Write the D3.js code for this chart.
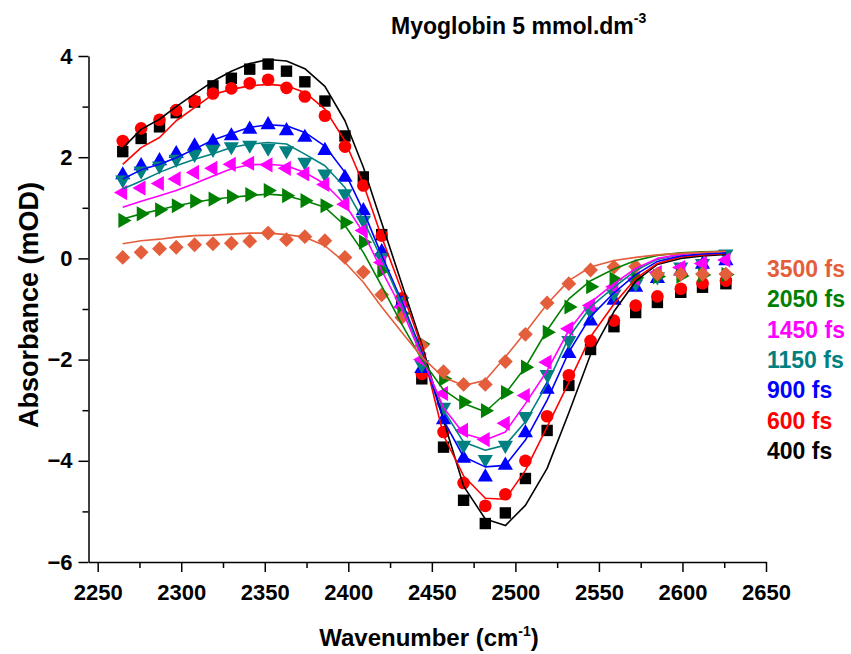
<!DOCTYPE html>
<html>
<head>
<meta charset="utf-8">
<script src="https://cdn.jsdelivr.net/npm/d3@7"></script>
<style>
  body { margin: 0; background: #fff; }
  svg { font-family: "Liberation Sans", Arial, sans-serif; }
</style>
</head>
<body>
<svg id="chart" width="851" height="654"></svg>
<script>
// wavenumber of each detector pixel (cm-1)
const wavenumbers = [2265, 2276, 2287, 2297, 2308, 2319, 2330, 2341, 2352, 2363, 2374, 2386, 2398, 2409, 2420, 2432,
  2444, 2457, 2469, 2482, 2494, 2506, 2519, 2532, 2545, 2559, 2572, 2585, 2599, 2612, 2626];

const delays = ["3500 fs", "2050 fs", "1450 fs", "1150 fs", "900 fs", "600 fs", "400 fs"];

// measured absorbance (mOD)
const abs400 = [2.11, 2.37, 2.60, 2.88, 3.09, 3.41, 3.56, 3.74, 3.84, 3.70, 3.49, 3.11, 2.42, 1.61, 0.47, -0.85,
  -2.38, -3.73, -4.78, -5.24, -5.03, -4.35, -3.40, -2.51, -1.80, -1.35, -1.07, -0.87, -0.67, -0.57, -0.50];
const abs600 = [2.32, 2.57, 2.74, 2.93, 3.11, 3.26, 3.36, 3.46, 3.53, 3.37, 3.20, 2.82, 2.21, 1.44, 0.45, -0.79,
  -2.28, -3.43, -4.44, -4.89, -4.66, -4.00, -3.12, -2.31, -1.63, -1.23, -0.93, -0.75, -0.60, -0.49, -0.44];
const abs900 = [1.65, 1.83, 1.93, 2.07, 2.22, 2.31, 2.42, 2.55, 2.64, 2.52, 2.39, 2.13, 1.60, 0.94, 0.13, -0.88,
  -2.18, -3.19, -3.95, -4.32, -4.09, -3.45, -2.59, -1.88, -1.24, -0.83, -0.57, -0.40, -0.25, -0.12, -0.05];
const abs1150 = [1.55, 1.73, 1.83, 1.96, 2.06, 2.16, 2.21, 2.24, 2.18, 2.13, 1.90, 1.67, 1.28, 0.75, 0.02, -0.85,
  -2.10, -2.94, -3.69, -3.97, -3.69, -3.12, -2.29, -1.62, -1.05, -0.70, -0.50, -0.36, -0.17, -0.10, 0.09];
const abs1450 = [1.30, 1.39, 1.48, 1.57, 1.70, 1.78, 1.86, 1.88, 1.85, 1.78, 1.67, 1.46, 1.07, 0.55, -0.08, -0.96,
  -2.00, -2.67, -3.40, -3.58, -3.26, -2.71, -2.05, -1.39, -0.93, -0.56, -0.40, -0.28, -0.18, -0.10, -0.03];
const abs2050 = [0.75, 0.88, 0.96, 1.04, 1.13, 1.17, 1.22, 1.26, 1.34, 1.24, 1.14, 1.04, 0.71, 0.32, -0.24, -1.09,
  -1.69, -2.38, -2.84, -3.01, -2.65, -2.15, -1.46, -0.96, -0.56, -0.41, -0.38, -0.36, -0.35, -0.33, -0.32];
const abs3500 = [0.02, 0.12, 0.19, 0.22, 0.27, 0.29, 0.30, 0.34, 0.50, 0.37, 0.43, 0.35, 0.02, -0.27, -0.72, -1.17,
  -1.72, -2.24, -2.49, -2.49, -2.04, -1.50, -0.88, -0.50, -0.23, -0.17, -0.16, -0.31, -0.31, -0.31, -0.31];

// fitted curves
const fit400 = [2.18, 2.55, 2.75, 3.00, 3.25, 3.50, 3.70, 3.85, 3.93, 3.90, 3.75, 3.40, 2.72, 1.80, 0.70, -0.50,
  -1.70, -3.20, -4.50, -5.15, -5.28, -4.88, -4.15, -3.05, -1.90, -1.05, -0.45, -0.12, 0.00, 0.05, 0.08];
const fit600 = [1.86, 2.19, 2.39, 2.72, 2.98, 3.24, 3.34, 3.41, 3.44, 3.41, 3.28, 2.95, 2.32, 1.47, 0.42, -0.64,
  -1.75, -3.50, -4.30, -4.74, -4.76, -4.19, -3.33, -2.45, -1.55, -0.90, -0.40, -0.10, 0.03, 0.07, 0.10];
const fit900 = [1.57, 1.75, 1.86, 1.99, 2.16, 2.34, 2.47, 2.59, 2.64, 2.62, 2.49, 2.22, 1.70, 0.94, 0.06, -0.85,
  -1.85, -3.20, -3.92, -4.12, -4.09, -3.59, -2.80, -1.85, -1.15, -0.68, -0.32, -0.06, 0.05, 0.09, 0.11];
const fit1150 = [1.37, 1.53, 1.70, 1.83, 1.96, 2.07, 2.19, 2.26, 2.29, 2.26, 2.06, 1.83, 1.40, 0.75, -0.01, -0.90,
  -1.90, -3.00, -3.63, -3.79, -3.69, -3.23, -2.48, -1.56, -0.96, -0.57, -0.24, -0.02, 0.08, 0.12, 0.14];
const fit1450 = [1.01, 1.13, 1.24, 1.34, 1.48, 1.63, 1.77, 1.85, 1.86, 1.83, 1.70, 1.47, 1.07, 0.51, -0.24, -1.00,
  -1.95, -2.95, -3.46, -3.59, -3.43, -2.87, -2.22, -1.42, -0.87, -0.50, -0.20, 0.00, 0.08, 0.12, 0.14];
const fit2050 = [0.78, 0.88, 0.96, 1.04, 1.11, 1.17, 1.21, 1.24, 1.27, 1.24, 1.14, 1.01, 0.65, 0.12, -0.55, -1.30,
  -2.00, -2.60, -2.87, -3.03, -2.67, -2.15, -1.42, -0.80, -0.44, -0.21, -0.04, 0.06, 0.11, 0.13, 0.14];
const fit3500 = [0.29, 0.35, 0.38, 0.42, 0.45, 0.46, 0.48, 0.50, 0.50, 0.47, 0.42, 0.25, -0.08, -0.47, -0.96, -1.46,
  -1.95, -2.35, -2.51, -2.41, -1.95, -1.46, -0.90, -0.44, -0.17, -0.04, 0.02, 0.07, 0.10, 0.12, 0.14];

const xTicks = [2250, 2300, 2350, 2400, 2450, 2500, 2550, 2600, 2650];
const yTicks = [-6, -4, -2, 0, 2, 4];

// drawing order: first series ends up underneath
const series = [
  { label: "400 fs", data: abs400, fit: fit400, color: "#000000", shape: d3.symbolSquare, size: 130, rot: 0 },
  { label: "600 fs", data: abs600, fit: fit600, color: "#ff0000", shape: d3.symbolCircle, size: 125, rot: 0 },
  { label: "900 fs", data: abs900, fit: fit900, color: "#0000ff", shape: d3.symbolTriangle, size: 100, rot: 0 },
  { label: "1150 fs", data: abs1150, fit: fit1150, color: "#008080", shape: d3.symbolTriangle, size: 100, rot: 180 },
  { label: "1450 fs", data: abs1450, fit: fit1450, color: "#ff00ff", shape: d3.symbolTriangle, size: 100, rot: -90 },
  { label: "2050 fs", data: abs2050, fit: fit2050, color: "#008000", shape: d3.symbolTriangle, size: 100, rot: 90 },
  { label: "3500 fs", data: abs3500, fit: fit3500, color: "#e45e3c", shape: d3.symbolSquare, size: 110, rot: 45 }
];

const svg = d3.select("#chart");

const x = d3.scaleLinear().domain([2244.5, 2650]).range([88.5, 766]);
const y = d3.scaleLinear().domain([-6, 4]).range([562, 56]);

// axes
svg
  .append("g")
  .attr("transform", "translate(0,562)")
  .call(d3.axisBottom(x).tickValues(xTicks).tickSize(10).tickSizeOuter(0).tickPadding(12).tickFormat(d3.format("d")));
svg
  .append("g")
  .attr("transform", "translate(0,562)")
  .call(d3.axisBottom(x).tickValues(xTicks.slice(0, -1).map((d) => d + 25)).tickSize(6).tickFormat(""))
  .select(".domain")
  .remove();

svg
  .append("g")
  .attr("transform", "translate(88.5,0)")
  .call(d3.axisLeft(y).tickValues(yTicks).tickSize(10).tickSizeOuter(0).tickPadding(6));
svg
  .append("g")
  .attr("transform", "translate(88.5,0)")
  .call(d3.axisLeft(y).tickValues([-5, -3, -1, 1, 3]).tickSize(6).tickFormat(""))
  .select(".domain")
  .remove();

svg.selectAll(".domain, .tick line").attr("stroke", "#000").attr("stroke-width", 1.5);
svg
  .selectAll(".tick text")
  .attr("font-size", 22)
  .attr("font-weight", "bold")
  .attr("font-family", "Liberation Sans, Arial, sans-serif")
  .attr("fill", "#000");

// markers
series.forEach((s) => {
  const sym = d3.symbol().type(s.shape).size(s.size);
  svg
    .append("g")
    .selectAll("path")
    .data(s.data)
    .enter()
    .append("path")
    .attr("d", sym)
    .attr("fill", s.color)
    .attr("transform", (d, i) => `translate(${x(wavenumbers[i])},${y(d)}) rotate(${s.rot})`);
});

// fit lines on top
const line = d3
  .line()
  .x((d, i) => x(wavenumbers[i]))
  .y((d) => y(d));

series.forEach((s) => {
  svg
    .append("path")
    .datum(s.fit)
    .attr("d", line)
    .attr("fill", "none")
    .attr("stroke", s.color)
    .attr("stroke-width", 1.6)
    .attr("stroke-linejoin", "round");
});

// legend (text only, top to bottom)
const byLabel = {};
series.forEach((s) => (byLabel[s.label] = s.color));
svg
  .append("g")
  .selectAll("text")
  .data(delays)
  .enter()
  .append("text")
  .attr("x", 767)
  .attr("y", (d, i) => 277 + i * 30.3)
  .attr("font-size", 23)
  .attr("font-weight", "bold")
  .attr("fill", (d) => byLabel[d])
  .text((d) => d);

// titles
const title = svg
  .append("text")
  .attr("x", 391)
  .attr("y", 34)
  .attr("font-size", 23)
  .attr("font-weight", "bold")
  .text("Myoglobin 5 mmol.dm");
title.append("tspan").attr("dy", -11).attr("font-size", 14).text("-3");

const xTitle = svg
  .append("text")
  .attr("x", 429)
  .attr("y", 646)
  .attr("text-anchor", "middle")
  .attr("font-size", 24)
  .attr("font-weight", "bold")
  .text("Wavenumber (cm");
xTitle.append("tspan").attr("dy", -10).attr("font-size", 14).text("-1");
xTitle.append("tspan").attr("dy", 10).text(")");

svg
  .append("text")
  .attr("transform", "translate(38,305) rotate(-90)")
  .attr("text-anchor", "middle")
  .attr("font-size", 27)
  .attr("font-weight", "bold")
  .text("Absorbance (mOD)");
</script>
</body>
</html>
